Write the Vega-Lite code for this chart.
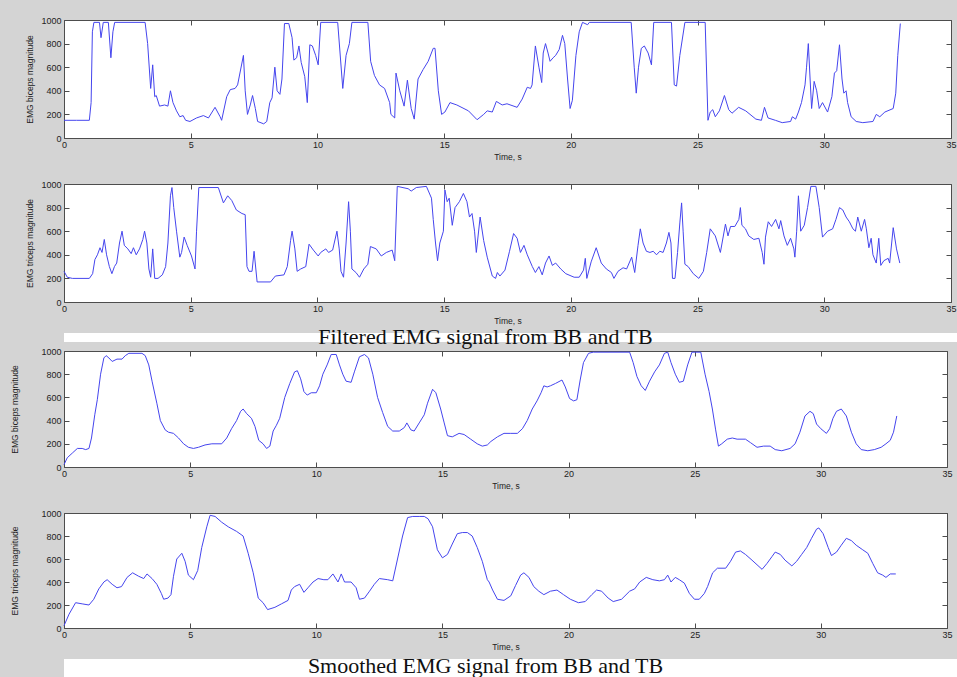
{
  "$schema": "https://vega.github.io/schema/vega-lite/v6.json",
  "background": "#d4d4d4",
  "padding": {"left": 10, "top": 15, "right": 0, "bottom": 0},
  "config": {
    "view": {"stroke": "#4d4d4d", "fill": "white", "strokeWidth": 1},
    "axis": {"domain": false, "grid": false, "tickSize": -5, "tickColor": "#4d4d4d", "labelFont": "Liberation Sans", "labelFontSize": 9, "labelColor": "#222222", "titleFont": "Liberation Sans", "titleFontSize": 8.5, "titleFontWeight": "normal", "titleColor": "#222222", "labelFlush": false, "format": "d"}
  },
  "datasets": {
    "p1": [
      {"t":0,"v":150},{"t":0.5,"v":150},{"t":1.0,"v":150},{"t":1.07,"v":300},{"t":1.12,"v":900},{"t":1.18,"v":980},{"t":1.4,"v":980},{"t":1.46,"v":850},{"t":1.55,"v":980},{"t":1.75,"v":980},{"t":1.85,"v":680},{"t":1.93,"v":900},{"t":2.0,"v":980},{"t":3.2,"v":980},{"t":3.3,"v":800},{"t":3.42,"v":420},{"t":3.5,"v":620},{"t":3.58,"v":350},{"t":3.64,"v":360},{"t":3.77,"v":270},{"t":3.97,"v":280},{"t":4.1,"v":270},{"t":4.2,"v":400},{"t":4.3,"v":300},{"t":4.44,"v":230},{"t":4.57,"v":180},{"t":4.7,"v":190},{"t":4.8,"v":150},{"t":4.97,"v":140},{"t":5.23,"v":170},{"t":5.5,"v":190},{"t":5.7,"v":170},{"t":5.96,"v":260},{"t":6.16,"v":180},{"t":6.22,"v":150},{"t":6.42,"v":350},{"t":6.56,"v":410},{"t":6.75,"v":420},{"t":6.85,"v":450},{"t":7.08,"v":700},{"t":7.15,"v":400},{"t":7.24,"v":200},{"t":7.35,"v":280},{"t":7.44,"v":360},{"t":7.55,"v":250},{"t":7.64,"v":140},{"t":7.88,"v":120},{"t":8.0,"v":140},{"t":8.12,"v":300},{"t":8.21,"v":340},{"t":8.32,"v":600},{"t":8.41,"v":400},{"t":8.52,"v":370},{"t":8.6,"v":500},{"t":8.7,"v":970},{"t":8.87,"v":970},{"t":9.0,"v":850},{"t":9.07,"v":660},{"t":9.18,"v":680},{"t":9.27,"v":780},{"t":9.36,"v":640},{"t":9.5,"v":520},{"t":9.6,"v":300},{"t":9.7,"v":790},{"t":9.8,"v":780},{"t":9.93,"v":700},{"t":10.03,"v":620},{"t":10.13,"v":980},{"t":10.8,"v":980},{"t":11.0,"v":420},{"t":11.13,"v":700},{"t":11.26,"v":800},{"t":11.36,"v":980},{"t":11.99,"v":980},{"t":12.1,"v":650},{"t":12.25,"v":530},{"t":12.45,"v":450},{"t":12.65,"v":420},{"t":12.85,"v":300},{"t":12.9,"v":200},{"t":13.05,"v":170},{"t":13.1,"v":550},{"t":13.25,"v":400},{"t":13.42,"v":270},{"t":13.55,"v":490},{"t":13.7,"v":250},{"t":13.82,"v":160},{"t":13.97,"v":500},{"t":14.17,"v":580},{"t":14.37,"v":650},{"t":14.57,"v":760},{"t":14.64,"v":760},{"t":14.77,"v":400},{"t":14.9,"v":200},{"t":15.03,"v":220},{"t":15.23,"v":300},{"t":15.5,"v":280},{"t":15.96,"v":230},{"t":16.3,"v":155},{"t":16.56,"v":200},{"t":16.7,"v":230},{"t":16.9,"v":220},{"t":17.06,"v":310},{"t":17.29,"v":280},{"t":17.48,"v":290},{"t":17.88,"v":260},{"t":18.08,"v":330},{"t":18.28,"v":430},{"t":18.41,"v":420},{"t":18.47,"v":450},{"t":18.6,"v":780},{"t":18.74,"v":600},{"t":18.85,"v":470},{"t":18.91,"v":720},{"t":19.0,"v":800},{"t":19.1,"v":720},{"t":19.18,"v":650},{"t":19.3,"v":680},{"t":19.4,"v":700},{"t":19.54,"v":750},{"t":19.67,"v":870},{"t":19.76,"v":800},{"t":19.87,"v":500},{"t":19.97,"v":250},{"t":20.06,"v":320},{"t":20.2,"v":700},{"t":20.33,"v":900},{"t":20.46,"v":980},{"t":20.66,"v":960},{"t":20.73,"v":980},{"t":22.38,"v":980},{"t":22.5,"v":600},{"t":22.58,"v":380},{"t":22.67,"v":600},{"t":22.78,"v":760},{"t":22.9,"v":780},{"t":23.05,"v":720},{"t":23.18,"v":620},{"t":23.27,"v":980},{"t":23.97,"v":980},{"t":24.08,"v":450},{"t":24.17,"v":440},{"t":24.3,"v":700},{"t":24.5,"v":980},{"t":25.3,"v":980},{"t":25.41,"v":150},{"t":25.5,"v":220},{"t":25.6,"v":240},{"t":25.7,"v":180},{"t":25.86,"v":230},{"t":26.06,"v":360},{"t":26.23,"v":240},{"t":26.36,"v":210},{"t":26.62,"v":260},{"t":26.9,"v":230},{"t":27.3,"v":160},{"t":27.52,"v":150},{"t":27.64,"v":260},{"t":27.78,"v":170},{"t":28.07,"v":150},{"t":28.34,"v":130},{"t":28.67,"v":140},{"t":28.74,"v":180},{"t":28.87,"v":160},{"t":28.98,"v":220},{"t":29.1,"v":300},{"t":29.24,"v":450},{"t":29.3,"v":600},{"t":29.37,"v":800},{"t":29.44,"v":500},{"t":29.5,"v":250},{"t":29.6,"v":480},{"t":29.7,"v":400},{"t":29.8,"v":250},{"t":29.93,"v":300},{"t":30.13,"v":220},{"t":30.3,"v":350},{"t":30.4,"v":550},{"t":30.49,"v":570},{"t":30.6,"v":790},{"t":30.7,"v":500},{"t":30.77,"v":380},{"t":30.86,"v":400},{"t":30.92,"v":300},{"t":31.06,"v":180},{"t":31.26,"v":140},{"t":31.52,"v":130},{"t":31.92,"v":140},{"t":32.05,"v":200},{"t":32.19,"v":180},{"t":32.39,"v":220},{"t":32.72,"v":250},{"t":32.82,"v":380},{"t":32.9,"v":700},{"t":33.0,"v":970}
    ],
    "p2": [
      {"t":0,"v":260},{"t":0.13,"v":210},{"t":0.33,"v":200},{"t":1.0,"v":200},{"t":1.13,"v":240},{"t":1.22,"v":360},{"t":1.32,"v":400},{"t":1.42,"v":460},{"t":1.5,"v":420},{"t":1.59,"v":530},{"t":1.68,"v":400},{"t":1.79,"v":300},{"t":1.89,"v":240},{"t":1.99,"v":300},{"t":2.08,"v":330},{"t":2.19,"v":500},{"t":2.29,"v":600},{"t":2.38,"v":480},{"t":2.52,"v":450},{"t":2.65,"v":410},{"t":2.74,"v":460},{"t":2.85,"v":400},{"t":2.98,"v":450},{"t":3.11,"v":530},{"t":3.18,"v":600},{"t":3.27,"v":500},{"t":3.35,"v":280},{"t":3.42,"v":210},{"t":3.5,"v":450},{"t":3.58,"v":200},{"t":3.71,"v":200},{"t":3.88,"v":230},{"t":4.01,"v":300},{"t":4.1,"v":500},{"t":4.2,"v":900},{"t":4.26,"v":970},{"t":4.33,"v":800},{"t":4.44,"v":600},{"t":4.57,"v":380},{"t":4.64,"v":420},{"t":4.74,"v":550},{"t":4.86,"v":480},{"t":5.03,"v":390},{"t":5.17,"v":280},{"t":5.23,"v":600},{"t":5.32,"v":970},{"t":6.09,"v":970},{"t":6.29,"v":840},{"t":6.46,"v":900},{"t":6.62,"v":860},{"t":6.8,"v":780},{"t":7.02,"v":750},{"t":7.15,"v":740},{"t":7.22,"v":300},{"t":7.3,"v":260},{"t":7.42,"v":260},{"t":7.5,"v":430},{"t":7.62,"v":170},{"t":8.15,"v":170},{"t":8.34,"v":220},{"t":8.68,"v":230},{"t":8.81,"v":300},{"t":8.94,"v":520},{"t":9.0,"v":600},{"t":9.11,"v":450},{"t":9.2,"v":260},{"t":9.34,"v":280},{"t":9.54,"v":300},{"t":9.67,"v":490},{"t":9.84,"v":440},{"t":10.03,"v":390},{"t":10.13,"v":420},{"t":10.33,"v":450},{"t":10.44,"v":420},{"t":10.6,"v":440},{"t":10.77,"v":600},{"t":10.86,"v":450},{"t":10.93,"v":260},{"t":11.03,"v":210},{"t":11.13,"v":500},{"t":11.23,"v":850},{"t":11.3,"v":600},{"t":11.36,"v":280},{"t":11.52,"v":250},{"t":11.66,"v":210},{"t":11.83,"v":280},{"t":11.99,"v":320},{"t":12.09,"v":470},{"t":12.32,"v":450},{"t":12.52,"v":390},{"t":12.72,"v":420},{"t":12.95,"v":440},{"t":13.05,"v":350},{"t":13.15,"v":980},{"t":13.58,"v":960},{"t":13.7,"v":940},{"t":13.9,"v":970},{"t":14.3,"v":980},{"t":14.5,"v":880},{"t":14.57,"v":700},{"t":14.66,"v":500},{"t":14.74,"v":350},{"t":14.83,"v":500},{"t":14.97,"v":600},{"t":15.03,"v":950},{"t":15.12,"v":850},{"t":15.2,"v":880},{"t":15.32,"v":650},{"t":15.43,"v":800},{"t":15.6,"v":850},{"t":15.76,"v":920},{"t":15.9,"v":850},{"t":16.0,"v":720},{"t":16.1,"v":750},{"t":16.2,"v":600},{"t":16.27,"v":420},{"t":16.42,"v":720},{"t":16.56,"v":520},{"t":16.7,"v":380},{"t":16.9,"v":220},{"t":17.03,"v":200},{"t":17.1,"v":250},{"t":17.2,"v":220},{"t":17.4,"v":270},{"t":17.58,"v":430},{"t":17.74,"v":580},{"t":17.88,"v":540},{"t":18.01,"v":420},{"t":18.15,"v":480},{"t":18.28,"v":400},{"t":18.48,"v":300},{"t":18.6,"v":250},{"t":18.74,"v":300},{"t":18.87,"v":230},{"t":19.0,"v":330},{"t":19.14,"v":390},{"t":19.27,"v":310},{"t":19.4,"v":330},{"t":19.6,"v":280},{"t":19.8,"v":240},{"t":20.13,"v":210},{"t":20.33,"v":210},{"t":20.5,"v":270},{"t":20.57,"v":370},{"t":20.63,"v":200},{"t":20.8,"v":340},{"t":21.0,"v":460},{"t":21.2,"v":330},{"t":21.4,"v":280},{"t":21.6,"v":250},{"t":21.7,"v":200},{"t":21.86,"v":260},{"t":22.06,"v":290},{"t":22.2,"v":280},{"t":22.4,"v":380},{"t":22.52,"v":250},{"t":22.65,"v":480},{"t":22.74,"v":620},{"t":22.85,"v":500},{"t":22.98,"v":430},{"t":23.12,"v":420},{"t":23.25,"v":430},{"t":23.38,"v":400},{"t":23.51,"v":430},{"t":23.64,"v":420},{"t":23.77,"v":500},{"t":23.87,"v":590},{"t":23.95,"v":500},{"t":24.01,"v":200},{"t":24.11,"v":200},{"t":24.21,"v":420},{"t":24.3,"v":670},{"t":24.37,"v":840},{"t":24.43,"v":600},{"t":24.5,"v":320},{"t":24.63,"v":300},{"t":24.83,"v":240},{"t":25.05,"v":200},{"t":25.23,"v":260},{"t":25.36,"v":420},{"t":25.5,"v":620},{"t":25.7,"v":560},{"t":25.9,"v":420},{"t":26.1,"v":660},{"t":26.2,"v":560},{"t":26.3,"v":640},{"t":26.47,"v":640},{"t":26.63,"v":700},{"t":26.69,"v":800},{"t":26.75,"v":650},{"t":26.89,"v":620},{"t":27.02,"v":560},{"t":27.22,"v":530},{"t":27.42,"v":540},{"t":27.55,"v":420},{"t":27.62,"v":320},{"t":27.68,"v":550},{"t":27.79,"v":680},{"t":27.92,"v":640},{"t":28.08,"v":700},{"t":28.21,"v":620},{"t":28.28,"v":690},{"t":28.41,"v":560},{"t":28.54,"v":480},{"t":28.67,"v":540},{"t":28.8,"v":450},{"t":28.84,"v":380},{"t":28.91,"v":600},{"t":28.98,"v":900},{"t":29.07,"v":600},{"t":29.21,"v":650},{"t":29.34,"v":800},{"t":29.47,"v":980},{"t":29.67,"v":980},{"t":29.8,"v":800},{"t":29.93,"v":550},{"t":30.13,"v":600},{"t":30.33,"v":620},{"t":30.46,"v":700},{"t":30.6,"v":800},{"t":30.73,"v":780},{"t":30.86,"v":720},{"t":30.99,"v":680},{"t":31.13,"v":620},{"t":31.23,"v":600},{"t":31.32,"v":720},{"t":31.46,"v":600},{"t":31.59,"v":700},{"t":31.66,"v":620},{"t":31.76,"v":460},{"t":31.85,"v":540},{"t":31.92,"v":400},{"t":32.05,"v":330},{"t":32.15,"v":540},{"t":32.23,"v":310},{"t":32.35,"v":350},{"t":32.52,"v":370},{"t":32.58,"v":330},{"t":32.72,"v":630},{"t":32.85,"v":450},{"t":32.98,"v":330}
    ],
    "p3": [
      {"t":0,"v":20},{"t":0.13,"v":80},{"t":0.33,"v":120},{"t":0.53,"v":160},{"t":0.72,"v":160},{"t":0.86,"v":150},{"t":0.99,"v":160},{"t":1.09,"v":250},{"t":1.22,"v":450},{"t":1.32,"v":580},{"t":1.45,"v":800},{"t":1.58,"v":940},{"t":1.67,"v":960},{"t":1.78,"v":940},{"t":1.91,"v":910},{"t":2.1,"v":930},{"t":2.3,"v":930},{"t":2.43,"v":960},{"t":2.57,"v":980},{"t":3.09,"v":980},{"t":3.22,"v":960},{"t":3.36,"v":880},{"t":3.49,"v":740},{"t":3.68,"v":550},{"t":3.82,"v":400},{"t":4.01,"v":320},{"t":4.14,"v":300},{"t":4.34,"v":290},{"t":4.54,"v":250},{"t":4.74,"v":200},{"t":4.93,"v":170},{"t":5.13,"v":160},{"t":5.33,"v":170},{"t":5.59,"v":190},{"t":5.86,"v":200},{"t":6.25,"v":200},{"t":6.45,"v":250},{"t":6.64,"v":330},{"t":6.84,"v":400},{"t":7.0,"v":480},{"t":7.1,"v":500},{"t":7.24,"v":460},{"t":7.43,"v":420},{"t":7.57,"v":350},{"t":7.72,"v":230},{"t":7.89,"v":200},{"t":8.03,"v":160},{"t":8.16,"v":180},{"t":8.29,"v":310},{"t":8.42,"v":360},{"t":8.55,"v":420},{"t":8.75,"v":600},{"t":8.95,"v":720},{"t":9.14,"v":820},{"t":9.25,"v":830},{"t":9.38,"v":760},{"t":9.51,"v":650},{"t":9.64,"v":620},{"t":9.8,"v":640},{"t":10.0,"v":640},{"t":10.13,"v":700},{"t":10.26,"v":800},{"t":10.43,"v":880},{"t":10.59,"v":970},{"t":10.79,"v":970},{"t":10.92,"v":880},{"t":11.05,"v":800},{"t":11.18,"v":740},{"t":11.38,"v":730},{"t":11.51,"v":820},{"t":11.71,"v":950},{"t":11.91,"v":970},{"t":12.07,"v":940},{"t":12.24,"v":800},{"t":12.43,"v":600},{"t":12.63,"v":470},{"t":12.83,"v":350},{"t":13.03,"v":310},{"t":13.29,"v":310},{"t":13.49,"v":340},{"t":13.59,"v":380},{"t":13.75,"v":320},{"t":13.88,"v":310},{"t":14.08,"v":380},{"t":14.28,"v":450},{"t":14.41,"v":550},{"t":14.61,"v":670},{"t":14.74,"v":640},{"t":14.93,"v":500},{"t":15.07,"v":380},{"t":15.2,"v":270},{"t":15.39,"v":260},{"t":15.66,"v":290},{"t":15.86,"v":280},{"t":16.12,"v":240},{"t":16.38,"v":200},{"t":16.58,"v":180},{"t":16.78,"v":190},{"t":16.92,"v":220},{"t":17.18,"v":260},{"t":17.44,"v":290},{"t":17.71,"v":290},{"t":17.97,"v":290},{"t":18.17,"v":330},{"t":18.36,"v":400},{"t":18.56,"v":500},{"t":18.75,"v":570},{"t":18.91,"v":640},{"t":19.02,"v":700},{"t":19.15,"v":690},{"t":19.28,"v":700},{"t":19.48,"v":720},{"t":19.74,"v":750},{"t":19.87,"v":690},{"t":20.04,"v":590},{"t":20.2,"v":570},{"t":20.33,"v":580},{"t":20.46,"v":750},{"t":20.59,"v":900},{"t":20.79,"v":980},{"t":20.98,"v":990},{"t":22.42,"v":990},{"t":22.56,"v":900},{"t":22.71,"v":780},{"t":22.88,"v":700},{"t":23.04,"v":660},{"t":23.21,"v":740},{"t":23.41,"v":820},{"t":23.6,"v":880},{"t":23.8,"v":980},{"t":23.93,"v":990},{"t":24.06,"v":900},{"t":24.23,"v":800},{"t":24.39,"v":730},{"t":24.55,"v":740},{"t":24.72,"v":880},{"t":24.89,"v":990},{"t":25.24,"v":990},{"t":25.41,"v":800},{"t":25.57,"v":650},{"t":25.7,"v":500},{"t":25.83,"v":320},{"t":25.94,"v":180},{"t":26.07,"v":200},{"t":26.29,"v":240},{"t":26.49,"v":250},{"t":26.68,"v":240},{"t":27.01,"v":240},{"t":27.21,"v":210},{"t":27.47,"v":170},{"t":27.73,"v":180},{"t":27.99,"v":180},{"t":28.19,"v":150},{"t":28.45,"v":140},{"t":28.78,"v":160},{"t":28.98,"v":200},{"t":29.17,"v":300},{"t":29.37,"v":440},{"t":29.57,"v":480},{"t":29.7,"v":460},{"t":29.83,"v":370},{"t":30.0,"v":330},{"t":30.22,"v":290},{"t":30.35,"v":330},{"t":30.48,"v":420},{"t":30.62,"v":480},{"t":30.81,"v":500},{"t":31.01,"v":440},{"t":31.21,"v":300},{"t":31.4,"v":200},{"t":31.6,"v":150},{"t":31.86,"v":140},{"t":32.12,"v":150},{"t":32.39,"v":170},{"t":32.58,"v":200},{"t":32.75,"v":230},{"t":32.88,"v":300},{"t":33.01,"v":440}
    ],
    "p4": [
      {"t":0,"v":20},{"t":0.2,"v":120},{"t":0.46,"v":220},{"t":0.72,"v":210},{"t":0.99,"v":200},{"t":1.18,"v":250},{"t":1.38,"v":340},{"t":1.58,"v":400},{"t":1.71,"v":420},{"t":1.91,"v":380},{"t":2.1,"v":350},{"t":2.28,"v":360},{"t":2.5,"v":440},{"t":2.72,"v":480},{"t":2.96,"v":450},{"t":3.16,"v":430},{"t":3.29,"v":470},{"t":3.49,"v":430},{"t":3.68,"v":380},{"t":3.86,"v":300},{"t":3.95,"v":250},{"t":4.12,"v":260},{"t":4.24,"v":290},{"t":4.34,"v":450},{"t":4.47,"v":600},{"t":4.67,"v":650},{"t":4.8,"v":580},{"t":4.93,"v":460},{"t":5.13,"v":420},{"t":5.3,"v":500},{"t":5.46,"v":700},{"t":5.66,"v":880},{"t":5.79,"v":980},{"t":5.99,"v":970},{"t":6.25,"v":920},{"t":6.51,"v":880},{"t":6.84,"v":840},{"t":7.1,"v":800},{"t":7.3,"v":650},{"t":7.5,"v":480},{"t":7.7,"v":260},{"t":7.89,"v":220},{"t":8.07,"v":160},{"t":8.36,"v":180},{"t":8.62,"v":210},{"t":8.88,"v":240},{"t":9.01,"v":330},{"t":9.14,"v":360},{"t":9.34,"v":380},{"t":9.51,"v":310},{"t":9.67,"v":350},{"t":9.87,"v":400},{"t":10.07,"v":430},{"t":10.3,"v":420},{"t":10.46,"v":420},{"t":10.66,"v":470},{"t":10.86,"v":400},{"t":10.99,"v":470},{"t":11.12,"v":400},{"t":11.38,"v":400},{"t":11.58,"v":350},{"t":11.71,"v":250},{"t":11.91,"v":260},{"t":12.11,"v":320},{"t":12.3,"v":380},{"t":12.5,"v":430},{"t":12.83,"v":420},{"t":13.03,"v":410},{"t":13.22,"v":600},{"t":13.42,"v":800},{"t":13.62,"v":960},{"t":13.82,"v":970},{"t":14.08,"v":970},{"t":14.28,"v":970},{"t":14.43,"v":950},{"t":14.61,"v":880},{"t":14.8,"v":680},{"t":15.0,"v":610},{"t":15.2,"v":640},{"t":15.39,"v":730},{"t":15.59,"v":820},{"t":15.79,"v":830},{"t":15.99,"v":830},{"t":16.18,"v":800},{"t":16.38,"v":700},{"t":16.58,"v":580},{"t":16.78,"v":420},{"t":16.85,"v":400},{"t":16.99,"v":330},{"t":17.18,"v":250},{"t":17.44,"v":240},{"t":17.71,"v":280},{"t":17.9,"v":370},{"t":18.1,"v":460},{"t":18.23,"v":480},{"t":18.43,"v":440},{"t":18.62,"v":360},{"t":18.82,"v":320},{"t":19.02,"v":290},{"t":19.28,"v":320},{"t":19.54,"v":330},{"t":19.8,"v":290},{"t":20.07,"v":250},{"t":20.39,"v":220},{"t":20.66,"v":230},{"t":20.92,"v":290},{"t":21.11,"v":330},{"t":21.31,"v":320},{"t":21.57,"v":260},{"t":21.77,"v":230},{"t":22.1,"v":250},{"t":22.42,"v":320},{"t":22.62,"v":340},{"t":22.82,"v":400},{"t":23.08,"v":440},{"t":23.34,"v":420},{"t":23.6,"v":410},{"t":23.8,"v":420},{"t":23.93,"v":460},{"t":24.06,"v":400},{"t":24.23,"v":440},{"t":24.39,"v":420},{"t":24.59,"v":390},{"t":24.79,"v":300},{"t":24.99,"v":250},{"t":25.18,"v":250},{"t":25.38,"v":300},{"t":25.51,"v":360},{"t":25.71,"v":480},{"t":25.9,"v":520},{"t":26.23,"v":520},{"t":26.42,"v":580},{"t":26.62,"v":660},{"t":26.81,"v":670},{"t":27.01,"v":640},{"t":27.27,"v":590},{"t":27.47,"v":550},{"t":27.67,"v":510},{"t":27.86,"v":560},{"t":28.06,"v":620},{"t":28.19,"v":660},{"t":28.39,"v":640},{"t":28.58,"v":590},{"t":28.85,"v":540},{"t":29.04,"v":580},{"t":29.24,"v":640},{"t":29.44,"v":700},{"t":29.63,"v":780},{"t":29.83,"v":860},{"t":29.92,"v":870},{"t":30.09,"v":820},{"t":30.29,"v":700},{"t":30.42,"v":630},{"t":30.62,"v":660},{"t":30.81,"v":720},{"t":31.01,"v":780},{"t":31.21,"v":760},{"t":31.4,"v":720},{"t":31.66,"v":680},{"t":31.86,"v":650},{"t":32.06,"v":560},{"t":32.25,"v":480},{"t":32.45,"v":460},{"t":32.58,"v":440},{"t":32.75,"v":470},{"t":32.97,"v":470}
    ]
  },
  "spacing": -2,
  "vconcat": [
    {
      "spacing": 0,
      "vconcat": [
        {
          "spacing": 18,
          "vconcat": [
            {
              "width": 887, "height": 118,
              "data": {"name": "p1"},
              "layer": [
                {"mark": {"type": "line", "color": "#4545ee", "strokeWidth": 1},
                 "encoding": {
                   "x": {"field": "t", "type": "quantitative", "scale": {"domain": [0, 35], "nice": false}, "axis": {"orient": "bottom", "values": [0,5,10,15,20,25,30,35], "title": "Time, s", "labelPadding": 7, "titlePadding": 3}},
                   "y": {"field": "v", "type": "quantitative", "scale": {"domain": [0, 1000], "nice": false}, "axis": {"orient": "left", "values": [0,200,400,600,800,1000], "title": "EMG biceps magnitude", "labelPadding": 8, "titlePadding": 6}}}},
                {"mark": {"type": "line", "strokeOpacity": 0},
                 "encoding": {
                   "x": {"field": "t", "type": "quantitative", "axis": {"orient": "top", "values": [0,5,10,15,20,25,30,35], "labels": false, "title": null}},
                   "y": {"field": "v", "type": "quantitative", "axis": {"orient": "right", "values": [0,200,400,600,800,1000], "labels": false, "title": null}}}}
              ],
              "resolve": {"axis": {"x": "independent", "y": "independent"}}
            },
            {
              "width": 887, "height": 118,
              "data": {"name": "p2"},
              "layer": [
                {"mark": {"type": "line", "color": "#4545ee", "strokeWidth": 1},
                 "encoding": {
                   "x": {"field": "t", "type": "quantitative", "scale": {"domain": [0, 35], "nice": false}, "axis": {"orient": "bottom", "values": [0,5,10,15,20,25,30,35], "title": "Time, s", "labelPadding": 7, "titlePadding": 3}},
                   "y": {"field": "v", "type": "quantitative", "scale": {"domain": [0, 1000], "nice": false}, "axis": {"orient": "left", "values": [0,200,400,600,800,1000], "title": "EMG triceps magnitude", "labelPadding": 8, "titlePadding": 6}}}},
                {"mark": {"type": "line", "strokeOpacity": 0},
                 "encoding": {
                   "x": {"field": "t", "type": "quantitative", "axis": {"orient": "top", "values": [0,5,10,15,20,25,30,35], "labels": false, "title": null}},
                   "y": {"field": "v", "type": "quantitative", "axis": {"orient": "right", "values": [0,200,400,600,800,1000], "labels": false, "title": null}}}}
              ],
              "resolve": {"axis": {"x": "independent", "y": "independent"}}
            }
          ]
        },
        {
          "width": 895, "height": 9,
          "view": {"stroke": null, "fill": "white"},
          "data": {"values": [{"caption": "Filtered EMG signal from BB and TB"}]},
          "mark": {"type": "text", "font": "Liberation Serif", "fontSize": 22, "color": "#111111", "baseline": "middle", "dy": -1, "dx": -26},
          "encoding": {"x": {"field": "caption", "type": "nominal", "axis": null}, "text": {"field": "caption"}}
        }
      ]
    },
    {
      "spacing": 3,
      "vconcat": [
        {
          "spacing": 18,
          "vconcat": [
            {
              "width": 883, "height": 116,
              "data": {"name": "p3"},
              "layer": [
                {"mark": {"type": "line", "color": "#4545ee", "strokeWidth": 1},
                 "encoding": {
                   "x": {"field": "t", "type": "quantitative", "scale": {"domain": [0, 35], "nice": false}, "axis": {"orient": "bottom", "values": [0,5,10,15,20,25,30,35], "title": "Time, s", "labelPadding": 7, "titlePadding": 3}},
                   "y": {"field": "v", "type": "quantitative", "scale": {"domain": [0, 1000], "nice": false}, "axis": {"orient": "left", "values": [0,200,400,600,800,1000], "title": "EMG biceps magnitude", "labelPadding": 8, "titlePadding": 21}}}},
                {"mark": {"type": "line", "strokeOpacity": 0},
                 "encoding": {
                   "x": {"field": "t", "type": "quantitative", "axis": {"orient": "top", "values": [0,5,10,15,20,25,30,35], "labels": false, "title": null}},
                   "y": {"field": "v", "type": "quantitative", "axis": {"orient": "right", "values": [0,200,400,600,800,1000], "labels": false, "title": null}}}}
              ],
              "resolve": {"axis": {"x": "independent", "y": "independent"}}
            },
            {
              "width": 883, "height": 115,
              "data": {"name": "p4"},
              "layer": [
                {"mark": {"type": "line", "color": "#4545ee", "strokeWidth": 1},
                 "encoding": {
                   "x": {"field": "t", "type": "quantitative", "scale": {"domain": [0, 35], "nice": false}, "axis": {"orient": "bottom", "values": [0,5,10,15,20,25,30,35], "title": "Time, s", "labelPadding": 7, "titlePadding": 3}},
                   "y": {"field": "v", "type": "quantitative", "scale": {"domain": [0, 1000], "nice": false}, "axis": {"orient": "left", "values": [0,200,400,600,800,1000], "title": "EMG triceps magnitude", "labelPadding": 8, "titlePadding": 21}}}},
                {"mark": {"type": "line", "strokeOpacity": 0},
                 "encoding": {
                   "x": {"field": "t", "type": "quantitative", "axis": {"orient": "top", "values": [0,5,10,15,20,25,30,35], "labels": false, "title": null}},
                   "y": {"field": "v", "type": "quantitative", "axis": {"orient": "right", "values": [0,200,400,600,800,1000], "labels": false, "title": null}}}}
              ],
              "resolve": {"axis": {"x": "independent", "y": "independent"}}
            }
          ]
        },
        {
          "width": 895, "height": 19,
          "view": {"stroke": null, "fill": "white"},
          "data": {"values": [{"caption": "Smoothed EMG signal from BB and TB"}]},
          "mark": {"type": "text", "font": "Liberation Serif", "fontSize": 22, "color": "#111111", "baseline": "middle", "dy": -3, "dx": -26},
          "encoding": {"x": {"field": "caption", "type": "nominal", "axis": null}, "text": {"field": "caption"}}
        }
      ]
    }
  ]
}
